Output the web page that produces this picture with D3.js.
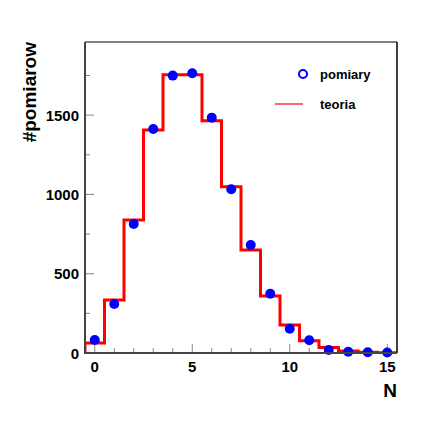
<!DOCTYPE html>
<html><head><meta charset="utf-8">
<script src="https://cdn.jsdelivr.net/npm/d3@7"></script>
<style>body{margin:0;background:#fff}svg{display:block}text{font-family:"Liberation Sans",Arial,sans-serif;font-weight:bold}</style>
</head><body>
<script>
const bins = [0,1,2,3,4,5,6,7,8,9,10,11,12,13,14,15];
const pomiary = [82,309,813,1412,1749,1764,1484,1032,681,374,153,80,19,8,5,3];
const teoria = [63,334,839,1406,1755,1755,1465,1048,650,359,176,78,34,13,5,2];
const xTicks = [0,5,10,15];
const yTicks = [0,500,1000,1500];

const W=425,H=425, L=85,R=397,T=42,B=353;
const svg=d3.select("body").append("svg").attr("width",W).attr("height",H);
const x=d3.scaleLinear().domain([-0.5,15.5]).range([L,R]);
const y=d3.scaleLinear().domain([0,1961]).range([B,T]);

svg.append("defs").append("clipPath").attr("id","c").append("rect").attr("x",L).attr("y",T).attr("width",R-L).attr("height",B-T);

// minor ticks
const g=svg.append("g");
g.selectAll(".xm").data(d3.range(0,16)).join("line").attr("x1",d=>x(d)).attr("x2",d=>x(d)).attr("y1",B).attr("y2",d=>xTicks.includes(d)?B-9:B-5).attr("stroke","#888").attr("stroke-width",1);
g.selectAll(".ym").data(d3.range(0,1960,250)).join("line").attr("y1",d=>y(d)).attr("y2",d=>y(d)).attr("x1",L).attr("x2",d=>d%500===0?L+9:L+5).attr("stroke","#888").attr("stroke-width",1);

// histogram
const pts=[[-0.5,0]];
bins.forEach((b,i)=>pts.push([b-0.5,teoria[i]]));
pts.push([15.5,teoria[15]]);pts.push([15.5,0]);
const line=d3.line().x(d=>x(d[0])).y(d=>y(d[1])).curve(d3.curveStepAfter);
svg.append("path").attr("clip-path","url(#c)").attr("d",line(pts)).attr("fill","none").attr("stroke","#ff0000").attr("stroke-width",3);

// points
svg.append("g").selectAll("circle").data(bins).join("circle").attr("cx",d=>x(d)).attr("cy",(d,i)=>y(pomiary[i])).attr("r",5).attr("fill","#0000ff");

// frame
svg.append("line").attr("x1",L).attr("x2",R).attr("y1",T).attr("y2",T).attr("stroke","#000").attr("stroke-width",1);
svg.append("line").attr("x1",R).attr("x2",R).attr("y1",T).attr("y2",B).attr("stroke","#000").attr("stroke-width",1.5);
svg.append("line").attr("x1",L).attr("x2",L).attr("y1",T).attr("y2",B+1).attr("stroke","#444").attr("stroke-width",2);
svg.append("line").attr("x1",L).attr("x2",R).attr("y1",B).attr("y2",B).attr("stroke","#444").attr("stroke-width",2);

// tick labels
svg.selectAll(".xl").data(xTicks).join("text").attr("x",d=>x(d)).attr("y",372).attr("text-anchor","middle").attr("font-size",15).text(d=>d);
svg.selectAll(".yl").data(yTicks).join("text").attr("x",79).attr("y",d=>y(d)+5.5).attr("text-anchor","end").attr("font-size",15).text(d=>d);

// axis titles
svg.append("text").attr("x",397).attr("y",397).attr("text-anchor","end").attr("font-size",19).text("N");
svg.append("text").attr("transform","translate(36,42) rotate(-90)").attr("text-anchor","end").attr("font-size",19).text("#pomiarow");

// legend
svg.append("circle").attr("cx",303).attr("cy",74).attr("r",4).attr("fill","none").attr("stroke","#0000ff").attr("stroke-width",2);
svg.append("text").attr("x",320).attr("y",79).attr("font-size",13).text("pomiary");
svg.append("line").attr("x1",275).attr("x2",303).attr("y1",104).attr("y2",104).attr("stroke","#ff3333").attr("stroke-width",1.5);
svg.append("text").attr("x",320).attr("y",109).attr("font-size",13).text("teoria");
</script>
</body></html>
